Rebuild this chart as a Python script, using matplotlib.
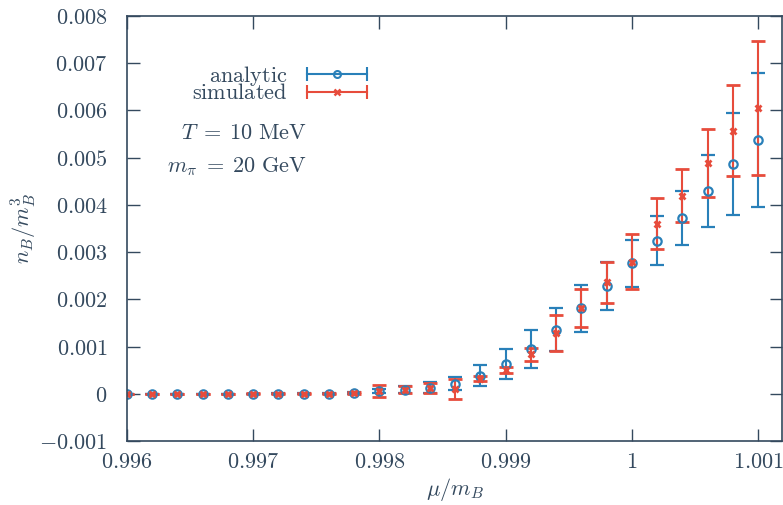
"""
Baryon density n_B/m_B^3 against mu/m_B: analytic vs simulated, with error bars.
"""

import matplotlib
matplotlib.use("Agg")
import matplotlib.pyplot as plt
from matplotlib.lines import Line2D
from matplotlib.legend_handler import HandlerLine2D, HandlerTuple
from matplotlib.ticker import FixedLocator, FuncFormatter

plt.rcParams["mathtext.fontset"] = "cm"

TEXT = "#34495e"
BLUE = "#2980b9"
RED = "#e74c3c"
FS = 16

mu = [0.9960, 0.9962, 0.9964, 0.9966, 0.9968, 0.9970, 0.9972, 0.9974, 0.9976,
      0.9978, 0.9980, 0.9982, 0.9984, 0.9986, 0.9988, 0.9990, 0.9992, 0.9994,
      0.9996, 0.9998, 1.0000, 1.0002, 1.0004, 1.0006, 1.0008, 1.0010]

analytic = [0.0, 0.0, 0.0, 0.0, 0.0, 0.000001, 0.000001, 0.000002, 0.000004,
            0.000012, 0.000055, 0.00009, 0.00013, 0.00021, 0.00038, 0.00063,
            0.00095, 0.00136, 0.00181, 0.00228, 0.00276, 0.00324, 0.00372,
            0.00429, 0.00487, 0.00537]
analytic_err = [0.000003, 0.000003, 0.000003, 0.000003, 0.000003, 0.000004,
                0.000005, 0.000006, 0.00001, 0.00002, 0.000045, 0.00008,
                0.00011, 0.00014, 0.00022, 0.00032, 0.00041, 0.00046, 0.0005,
                0.00051, 0.0005, 0.00052, 0.00057, 0.00076, 0.00108, 0.00142]

simulated = [0.0, 0.0, 0.0, 0.0, 0.0, 0.000001, 0.000001, 0.000002, 0.000004,
             0.00001, 0.00006, 0.00009, 0.00012, 0.0001, 0.00032, 0.0005,
             0.00084, 0.00128, 0.00182, 0.00236, 0.0028, 0.0036, 0.00419,
             0.00488, 0.00557, 0.00606]
simulated_err = [0.000005, 0.000005, 0.000005, 0.000005, 0.000005, 0.000006,
                 0.000006, 0.000008, 0.00001, 0.00002, 0.00012, 0.00008,
                 0.0001, 0.00022, 0.00005, 0.00006, 0.00014, 0.00038, 0.0004,
                 0.00044, 0.00058, 0.00054, 0.00056, 0.00072, 0.00096, 0.00142]

x_ticks = [0.996, 0.997, 0.998, 0.999, 1.0, 1.001]
y_ticks = [-0.001, 0.0, 0.001, 0.002, 0.003, 0.004, 0.005, 0.006, 0.007, 0.008]


def tick_fmt(v, pos):
    s = f"{v:.3f}"
    if abs(v) < 1e-12:
        s = "0"
    elif s == "1.000":
        s = "1"
    return f"${s}$"


fig = plt.figure(figsize=(7.83, 5.05), dpi=100)
ax = fig.add_axes([127 / 783, 64 / 505, 655 / 783, 425 / 505])

ax.errorbar(mu, analytic, yerr=analytic_err, fmt="o", color=BLUE, mfc="none",
            ms=6, mew=1.6, elinewidth=1.5, capsize=5, capthick=1.5)
ax.errorbar(mu, simulated, yerr=simulated_err, fmt="x", color=RED,
            ms=4.5, mew=2, elinewidth=1.5, capsize=5, capthick=1.5)

ax.set_xlim(0.996, 1.00119)
ax.set_ylim(-0.001, 0.008)
ax.xaxis.set_major_locator(FixedLocator(x_ticks))
ax.yaxis.set_major_locator(FixedLocator(y_ticks))
ax.xaxis.set_major_formatter(FuncFormatter(tick_fmt))
ax.yaxis.set_major_formatter(FuncFormatter(tick_fmt))

for s in ax.spines.values():
    s.set_color(TEXT)
    s.set_linewidth(1.2)
ax.tick_params(direction="in", length=9, width=1, color=TEXT, labelcolor=TEXT,
               labelsize=FS, top=True, right=True)
ax.tick_params(axis="x", pad=8)
ax.tick_params(axis="y", pad=14)

ax.set_xlabel(r"$\mu/m_B$", fontsize=FS, color=TEXT, labelpad=3)
ax.set_ylabel(r"$n_B/m_B^3$", fontsize=FS, color=TEXT)
ax.yaxis.set_label_coords(-0.134, 0.5)

# gnuplot-style key: horizontal bar with caps, marker in the middle
cap_b = Line2D([], [], color=BLUE, marker="|", ms=10, mew=1.5, lw=1.5)
dot_b = Line2D([], [], color=BLUE, marker="o", ms=5, mfc="none", mew=1.5, ls="none")
cap_r = Line2D([], [], color=RED, marker="|", ms=10, mew=1.5, lw=1.5)
dot_r = Line2D([], [], color=RED, marker="x", ms=4.5, mew=1.8, ls="none")
hmap = {cap_b: HandlerLine2D(numpoints=2, marker_pad=0),
        cap_r: HandlerLine2D(numpoints=2, marker_pad=0),
        dot_b: HandlerLine2D(numpoints=1), dot_r: HandlerLine2D(numpoints=1),
        tuple: HandlerTuple(ndivide=1)}
leg = ax.legend([(cap_b, dot_b), (cap_r, dot_r)],
                [r"$\mathrm{analytic}$", r"$\mathrm{simulated}$"],
                handler_map=hmap, loc="center right",
                bbox_to_anchor=(0.3664, 0.841), frameon=False, fontsize=FS,
                markerfirst=False, borderpad=0, borderaxespad=0,
                handlelength=2.7, handletextpad=0.9, labelspacing=-0.2)
for t in leg.get_texts():
    t.set_color(TEXT)

ax.text(0.275, 0.7247, r"$T\;=\;10\ \mathrm{MeV}$", transform=ax.transAxes,
        ha="right", va="center", fontsize=FS, color=TEXT)
ax.text(0.275, 0.6447, r"$m_\pi\;=\;20\ \mathrm{GeV}$", transform=ax.transAxes,
        ha="right", va="center", fontsize=FS, color=TEXT)

fig.savefig("out.png", dpi=100)
